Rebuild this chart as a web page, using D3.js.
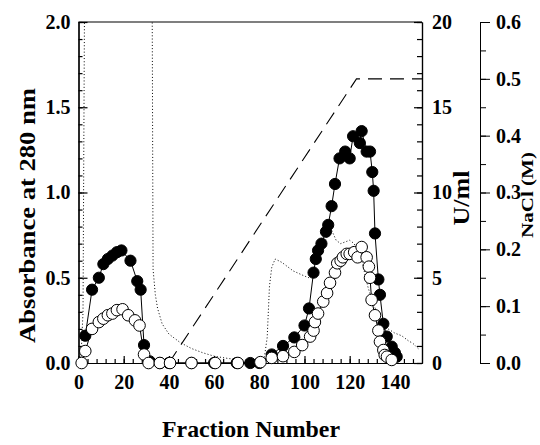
<!DOCTYPE html>
<html>
<head>
<meta charset="utf-8">
<script src="https://cdn.jsdelivr.net/npm/d3@7"></script>
<style>
  body { margin: 0; background: #fff; }
  svg { display: block; }
  text { font-family: "Liberation Serif", "Times New Roman", serif; font-weight: bold; fill: #000; }
</style>
</head>
<body>
<svg id="chart" width="540" height="445"></svg>
<script>
// ---- data ----
const filledFraction = [3,6,9,11,13,15,17,19,23,26,27.5,29,31.5,36,40,50,60,70,76,80,85.5,90.5,95.5,100,102,104,105,106,107.5,109.5,110.5,112,113.5,115.5,118,120,121.5,124.5,125.3,127.5,129,130,130.6,131.2,132.7,133.4,134.9,136.4,138.6,140,140.8];
const filledValue    = [0.16,0.43,0.50,0.58,0.61,0.63,0.65,0.66,0.60,0.48,0.43,0.105,0.01,0,0,0,0,0,0,0,0.05,0.10,0.15,0.22,0.32,0.53,0.61,0.66,0.70,0.77,0.81,0.92,1.05,1.20,1.24,1.20,1.33,1.29,1.36,1.24,1.24,1.12,1.01,0.76,0.49,0.40,0.23,0.155,0.096,0.06,0.037];

const openFraction = [1.4,3,6,9,11,13,15,17,19.5,22,25,27,29,31,36,40.5,50,60.5,70.5,80.5,85.5,90.5,95.5,99,102.5,104,104.6,106,108.3,110,111.3,113.5,114.5,116,117,118.7,120,122,123.5,125.3,127.5,128.5,129,129.7,131.2,132.7,133.4,134.9,135.5,136.5,138.6];
const openValue    = [0,0.07,0.20,0.24,0.26,0.28,0.29,0.31,0.315,0.28,0.25,0.22,0.05,0,0,0,0,0,0,0.005,0.03,0.04,0.065,0.105,0.155,0.19,0.24,0.29,0.36,0.41,0.47,0.53,0.585,0.60,0.62,0.64,0.64,0.65,0.62,0.68,0.62,0.565,0.50,0.37,0.28,0.19,0.125,0.076,0.047,0.037,0.018];

const dottedFraction = [1,2,2.8,32.5,33,34,35,37,40,45,50,55,60,66,72,82,83.5,84.5,85.5,87,90,95,100,102,104,107,110,112,114,116,118,120,122,125,128,130,132,134,137,140,143,146,148,151];
const dottedValue    = [0,0.3,2.5,2.5,0.55,0.4,0.32,0.23,0.17,0.12,0.085,0.06,0.04,0.027,0.018,0.01,0.15,0.45,0.56,0.61,0.59,0.54,0.51,0.50,0.55,0.65,0.74,0.78,0.72,0.70,0.71,0.72,0.70,0.62,0.45,0.36,0.30,0.24,0.20,0.175,0.16,0.13,0.115,0.076];

const naclFraction = [40,123,152];
const naclValue    = [0,0.5,0.5];

const xTicks = [0,20,40,60,80,100,120,140];
const yTicks = [0,0.5,1.0,1.5,2.0];
const uTicks = [0,5,10,15,20];
const naclTicks = [0,0.1,0.2,0.3,0.4,0.5,0.6];

const xLabel = "Fraction Number";
const yLabel = "Absorbance at 280 nm";
const uLabel = "U/ml";
const naclLabel = "NaCl (M)";

// ---- layout ----
const L = 78.5, R = 422, T = 22, B = 363, NX = 480;
const svg = d3.select("#chart");

const x = d3.scaleLinear().domain([0,152]).range([L,R]);
const y = d3.scaleLinear().domain([0,2]).range([B,T]);
const yU = d3.scaleLinear().domain([0,20]).range([B,T]);
const yN = d3.scaleLinear().domain([0,0.6]).range([B,T]);

svg.append("defs").append("clipPath").attr("id","clip")
  .append("rect").attr("x",L).attr("y",T).attr("width",R-L).attr("height",B-T);

function styleAxis(g, fs, w) {
  g.selectAll("path,line").attr("stroke","#000").attr("stroke-width",w || 1.2);
  g.selectAll("text").attr("font-size",fs).attr("font-family",null).attr("fill","#000");
}

// left axis
svg.append("g").attr("transform",`translate(${L},0)`)
  .call(d3.axisLeft(y).tickValues(d3.range(0,2.001,0.1)).tickSizeInner(-4).tickSizeOuter(0).tickFormat(""))
  .call(g => styleAxis(g,20));
svg.append("g").attr("transform",`translate(${L},0)`)
  .call(d3.axisLeft(y).tickValues(yTicks).tickSizeInner(-9).tickSizeOuter(0).tickPadding(8).tickFormat(d3.format(".1f")))
  .call(g => styleAxis(g,20));

// bottom axis
svg.append("g").attr("transform",`translate(0,${B})`)
  .call(d3.axisBottom(x).tickValues(d3.range(0,149,4)).tickSizeInner(-4).tickSizeOuter(0).tickFormat(""))
  .call(g => styleAxis(g,20));
svg.append("g").attr("transform",`translate(0,${B})`)
  .call(d3.axisBottom(x).tickValues(xTicks).tickSizeInner(-7).tickSizeOuter(0).tickPadding(12).tickFormat(d3.format("d")))
  .call(g => styleAxis(g,20));

// right U/ml axis
svg.append("g").attr("transform",`translate(${R},0)`)
  .call(d3.axisRight(yU).tickValues(d3.range(0,20.01,1)).tickSizeInner(-5).tickSizeOuter(0).tickFormat(""))
  .call(g => styleAxis(g,20));
svg.append("g").attr("transform",`translate(${R},0)`)
  .call(d3.axisRight(yU).tickValues(uTicks).tickSizeInner(-8).tickSizeOuter(0).tickPadding(10).tickFormat(d3.format("d")))
  .call(g => styleAxis(g,20));

// top frame
svg.append("line").attr("x1",L).attr("x2",R).attr("y1",T).attr("y2",T)
  .attr("stroke","#000").attr("stroke-width",1.2);

// NaCl axis
svg.append("g").attr("transform",`translate(${NX},0)`)
  .call(d3.axisRight(yN).tickValues(d3.range(0,0.601,0.05)).tickSizeInner(6).tickSizeOuter(0).tickFormat(""))
  .call(g => styleAxis(g,20,1));
svg.append("g").attr("transform",`translate(${NX},0)`)
  .call(d3.axisRight(yN).tickValues(naclTicks).tickSizeInner(10).tickSizeOuter(0).tickPadding(6).tickFormat(d3.format(".1f")))
  .call(g => styleAxis(g,20,1));

// titles
svg.append("text").attr("x",251).attr("y",437).attr("text-anchor","middle")
  .attr("font-size",24).attr("textLength",178).attr("lengthAdjust","spacingAndGlyphs").text(xLabel);
svg.append("text").attr("transform","translate(35,215.5) rotate(-90)").attr("text-anchor","middle")
  .attr("font-size",24).attr("textLength",255).attr("lengthAdjust","spacingAndGlyphs").text(yLabel);
svg.append("text").attr("transform","translate(469,198) rotate(-90)").attr("text-anchor","middle")
  .attr("font-size",23).attr("textLength",55).attr("lengthAdjust","spacingAndGlyphs").text(uLabel);
svg.append("text").attr("transform","translate(533,195) rotate(-90)").attr("text-anchor","middle")
  .attr("font-size",16).attr("textLength",86).attr("lengthAdjust","spacingAndGlyphs").text(naclLabel);

// data layers
const plot = svg.append("g").attr("clip-path","url(#clip)");
const zip = (a,b) => a.map((v,i) => [v,b[i]]);

const lineY = d3.line().x(d => x(d[0])).y(d => y(d[1]));
const lineN = d3.line().x(d => x(d[0])).y(d => yN(d[1]));

// dotted
plot.append("path").datum(zip(dottedFraction,dottedValue))
  .attr("d",lineY).attr("fill","none").attr("stroke","#000")
  .attr("stroke-width",1).attr("stroke-dasharray","1,2.2");

// dashed NaCl gradient
plot.append("path").datum(zip(naclFraction,naclValue))
  .attr("d",lineN).attr("fill","none").attr("stroke","#000")
  .attr("stroke-width",1.1).attr("stroke-dasharray","14,8");

const filled = zip(filledFraction,filledValue);
const open = zip(openFraction,openValue);

svg.append("path").datum(filled).attr("d",lineY).attr("fill","none").attr("stroke","#000").attr("stroke-width",1);
svg.append("path").datum(open).attr("d",lineY).attr("fill","none").attr("stroke","#000").attr("stroke-width",1);

svg.append("g").selectAll("circle").data(filled).join("circle")
  .attr("cx",d => x(d[0])).attr("cy",d => y(d[1])).attr("r",5.6)
  .attr("fill","#000").attr("stroke","#000").attr("stroke-width",1);
svg.append("g").selectAll("circle").data(open).join("circle")
  .attr("cx",d => x(d[0])).attr("cy",d => y(d[1])).attr("r",5.8)
  .attr("fill","#fff").attr("stroke","#000").attr("stroke-width",1);
</script>
</body>
</html>
